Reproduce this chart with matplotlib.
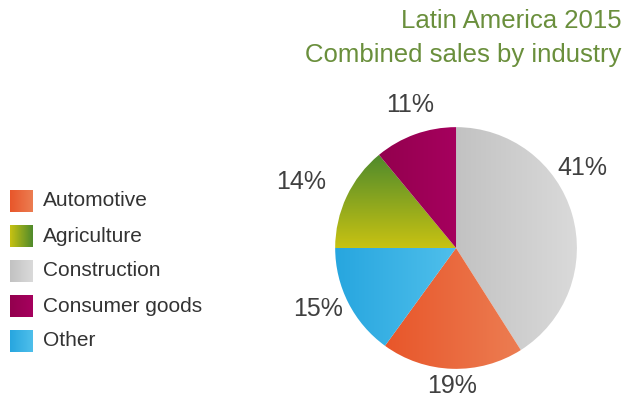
import numpy as np
import matplotlib.pyplot as plt
from matplotlib.colors import LinearSegmentedColormap

# pie order (clockwise from 12 o'clock)
industries = ["Construction", "Automotive", "Other", "Agriculture", "Consumer goods"]
shares = [41, 19, 15, 14, 11]
legend_order = ["Automotive", "Agriculture", "Construction", "Consumer goods", "Other"]

# (start colour, end colour, direction) for the shaded fills
shades = {
    "Construction": ("#c2c2c2", "#dadada", "h"),
    "Automotive": ("#e8562a", "#ec7d52", "h"),
    "Other": ("#27a6df", "#4fbfeb", "h"),
    "Agriculture": ("#c8c212", "#4e8a2c", "v"),
    "Consumer goods": ("#93004e", "#a6005e", "h"),
}
legend_shades = dict(shades)
legend_shades["Agriculture"] = ("#c8c212", "#4e8a2c", "h")

plt.rcParams['font.family'] = ['Liberation Sans', 'DejaVu Sans']

fig = plt.figure(figsize=(6.23, 4.0), dpi=100)

# pie
ax = fig.add_axes([0.538, 0.0775, 0.388, 0.605])
wedges, _ = ax.pie(shares, startangle=90, counterclock=False,
                   wedgeprops=dict(linewidth=0))


def fill_gradient(axis, patch, c0, c1, direction, extent):
    cmap = LinearSegmentedColormap.from_list("g", [c0, c1])
    grad = np.linspace(0, 1, 256)
    grad = grad.reshape(1, -1) if direction == "h" else grad.reshape(-1, 1)
    im = axis.imshow(grad, cmap=cmap, extent=extent, origin="lower",
                     aspect="auto", zorder=patch.get_zorder(), interpolation="bicubic")
    im.set_clip_path(patch)
    patch.set_facecolor("none")


for w, name in zip(wedges, industries):
    ext = w.get_path().get_extents()
    c0, c1, d = shades[name]
    fill_gradient(ax, w, c0, c1, d, (ext.x0, ext.x1, ext.y0, ext.y1))

ax.set_aspect("equal")
ax.set_xlim(-1, 1)
ax.set_ylim(-1, 1)
ax.axis("off")

# percentage labels
label_r = [1.24, 1.14, 1.25, 1.39, 1.24]
label_shift = [16, 0, -3, 2, -2]
for w, v, r, s in zip(wedges, shares, label_r, label_shift):
    ang = np.deg2rad((w.theta1 + w.theta2) / 2 + s)
    ax.text(r * np.cos(ang), r * np.sin(ang), f"{v}%", ha="center", va="center",
            fontsize=18, color="#404040", clip_on=False)

# title
fig.text(0.998, 0.948, "Latin America 2015", ha="right", va="center",
         fontsize=18.5, color="#6a8f3c")
fig.text(0.998, 0.862, "Combined sales by industry", ha="right", va="center",
         fontsize=18.5, color="#6a8f3c")

# legend
lax = fig.add_axes([0, 0, 1, 1])
lax.set_xlim(0, 623)
lax.set_ylim(400, 0)
lax.axis("off")
for i, name in enumerate(legend_order):
    y = 190 + i * 35
    sq = plt.Rectangle((10, y), 23, 22, linewidth=0)
    lax.add_patch(sq)
    c0, c1, d = legend_shades[name]
    fill_gradient(lax, sq, c0, c1, d, (10, 33, y + 22, y))
    lax.text(43, y + 11, name, ha="left", va="center", fontsize=15, color="#333333")
lax.set_aspect("auto")
lax.set_xlim(0, 623)
lax.set_ylim(400, 0)

fig.savefig("out.png", dpi=100)
